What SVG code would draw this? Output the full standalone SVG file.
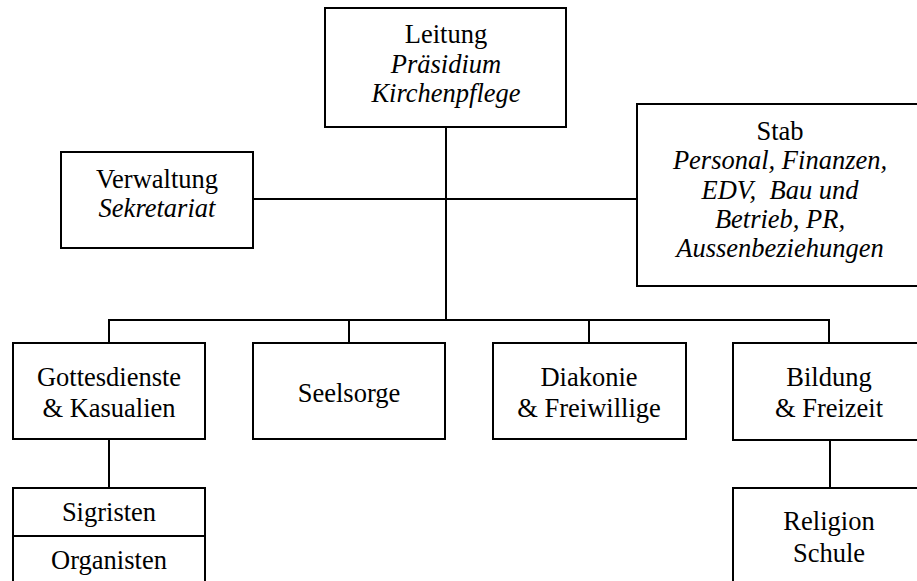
<svg xmlns="http://www.w3.org/2000/svg" width="917" height="581" viewBox="0 0 917 581" font-family="Liberation Serif, Times New Roman, serif">
  <style>
    .box { fill: #fff; stroke: #000; stroke-width: 2; }
    .link { fill: none; stroke: #000; stroke-width: 2; }
    text { font-size: 26.5px; fill: #000; text-anchor: middle; }
    .it { font-style: italic; }
  </style>
  <rect width="917" height="581" fill="#fff"/>

  <!-- connectors -->
  <g id="connectors">
    <path class="link" d="M446 127 V320"/>
    <path class="link" d="M253 199 H637"/>
    <path class="link" d="M109 343 V320 H829 V343"/>
    <path class="link" d="M349 320 V343"/>
    <path class="link" d="M589 320 V343"/>
    <path class="link" d="M109 439 V488"/>
    <path class="link" d="M830 440 V488"/>
  </g>

  <g id="leitung">
    <rect class="box" x="325" y="8" width="241" height="119"/>
    <text x="446" y="43">Leitung</text>
    <text class="it" x="446" y="73">Präsidium</text>
    <text class="it" x="446" y="102">Kirchenpflege</text>
  </g>

  <g id="verwaltung">
    <rect class="box" x="61" y="152" width="192" height="96"/>
    <text x="157" y="188">Verwaltung</text>
    <text class="it" x="157" y="217">Sekretariat</text>
  </g>

  <g id="stab">
    <rect class="box" x="637" y="104" width="286" height="182"/>
    <text x="780" y="140">Stab</text>
    <text class="it" x="780" y="169">Personal, Finanzen,</text>
    <text class="it" x="780" y="199" xml:space="preserve">EDV,  Bau und</text>
    <text class="it" x="780" y="228">Betrieb, PR,</text>
    <text class="it" x="780" y="257">Aussenbeziehungen</text>
  </g>

  <g id="gottesdienste">
    <rect class="box" x="13" y="343" width="192" height="96"/>
    <text x="109" y="386">Gottesdienste</text>
    <text x="109" y="417">&amp; Kasualien</text>
  </g>

  <g id="seelsorge">
    <rect class="box" x="253" y="343" width="192" height="96"/>
    <text x="349" y="402">Seelsorge</text>
  </g>

  <g id="diakonie">
    <rect class="box" x="493" y="343" width="193" height="96"/>
    <text x="589" y="386">Diakonie</text>
    <text x="589" y="417">&amp; Freiwillige</text>
  </g>

  <g id="bildung">
    <rect class="box" x="733" y="343" width="192" height="97"/>
    <text x="829" y="386">Bildung</text>
    <text x="829" y="417">&amp; Freizeit</text>
  </g>

  <g id="sigristen">
    <rect class="box" x="13" y="488" width="192" height="48"/>
    <text x="109" y="521">Sigristen</text>
  </g>

  <g id="organisten">
    <rect class="box" x="13" y="536" width="192" height="60"/>
    <text x="109" y="569">Organisten</text>
  </g>

  <g id="religion">
    <rect class="box" x="733" y="488" width="192" height="108"/>
    <text x="829" y="530">Religion</text>
    <text x="829" y="562">Schule</text>
  </g>
</svg>
